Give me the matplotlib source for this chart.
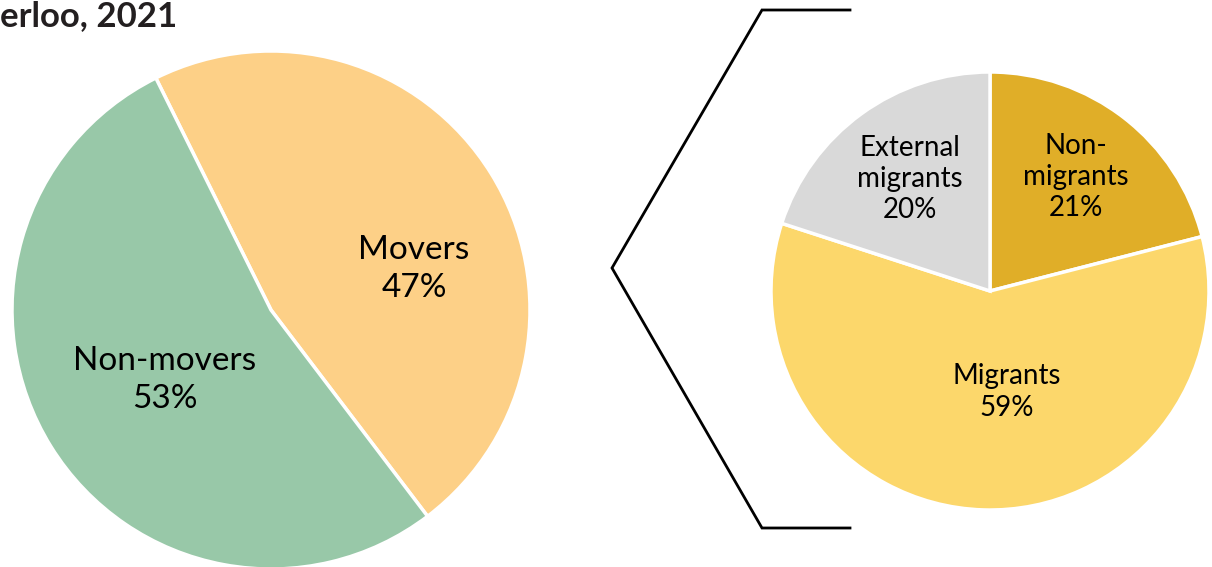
import numpy as np
import matplotlib
matplotlib.use("Agg")
import matplotlib.pyplot as plt

# data
main_labels = ["Movers", "Non-movers"]
main_values = [47, 53]
main_colors = ["#FDD087", "#98C8A8"]

sub_labels = ["Non-\nmigrants", "Migrants", "External\nmigrants"]
sub_values = [21, 59, 20]
sub_colors = ["#E0AE28", "#FCD76B", "#D9D9D9"]

title_tail = "erloo, 2021"

W, H = 1212, 567
fig = plt.figure(figsize=(W / 100, H / 100), dpi=100)
ax = fig.add_axes([0, 0, 1, 1])
plt.rcParams['font.family'] = ['Lato', 'DejaVu Sans']


def py(y):
    # pixel row (from top) -> data y
    return H - y


# left pie
c1 = (271, py(310))
r1 = 259
ax.pie(main_values, colors=main_colors, startangle=116.4, counterclock=False,
       center=c1, radius=r1, wedgeprops=dict(edgecolor="white", linewidth=2.5))
ax.text(c1[0] + 143, c1[1] + 41, f"{main_labels[0]}\n{main_values[0]}%",
        ha="center", va="center", fontsize=24, linespacing=1.3)
ax.text(c1[0] - 106, c1[1] - 70, f"{main_labels[1]}\n{main_values[1]}%",
        ha="center", va="center", fontsize=24, linespacing=1.3)

# right pie
c2 = (990, py(291))
r2 = 219
ax.pie(sub_values, colors=sub_colors, startangle=90, counterclock=False,
       center=c2, radius=r2, wedgeprops=dict(edgecolor="white", linewidth=2.5))
sub_pos = [(86, 114), (17, -101), (-80, 112)]
for lab, v, (dx, dy) in zip(sub_labels, sub_values, sub_pos):
    ax.text(c2[0] + dx, c2[1] + dy, f"{lab}\n{v}%", ha="center", va="center",
            fontsize=20, linespacing=1.25)

# bracket
bx = [850, 762, 612, 762, 850]
by = [py(10), py(10), py(268), py(528), py(528)]
ax.plot(bx, by, color="black", linewidth=2, solid_joinstyle="miter")

ax.text(0, py(16), title_tail, ha="left", va="center", fontsize=25,
        fontweight="bold", color="#231F20")

ax.set_xlim(0, W)
ax.set_ylim(0, H)
ax.set_aspect("equal")
ax.axis("off")

fig.savefig("out.png", dpi=100)
